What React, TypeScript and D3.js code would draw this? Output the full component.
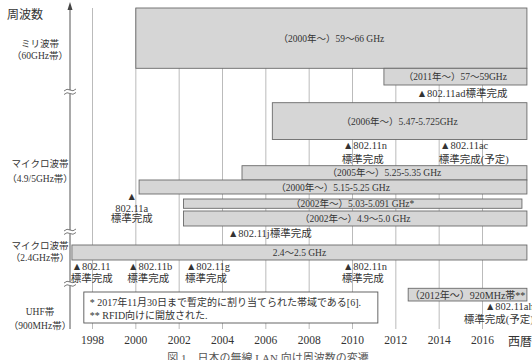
import React from "react";
import * as d3 from "d3";

const W = 532;
const H = 360;

const tickYears = [1998, 2000, 2002, 2004, 2006, 2008, 2010, 2012, 2014, 2016];

// frequency bands: start/end year, top/bottom in schematic axis units
const bandLabels = [
  "（2000年～）59～66 GHz",
  "（2011年～）57～59GHz",
  "（2006年～）5.47-5.725GHz",
  "（2005年～）5.25-5.35 GHz",
  "（2000年～）5.15-5.25 GHz",
  "（2002年～）5.03-5.091 GHz*",
  "（2002年～）4.9～5.0 GHz",
  "2.4～2.5 GHz",
  "（2012年～）920MHz帯**",
];
const bandFrom = [2000, 2011.45, 2006.3, 2004.9, 2000.15, 2002.2, 2002.2, 1997.05, 2012.57];
const bandTo = [2018.05, 2018.05, 2018.05, 2018.05, 2018.05, 2017.82, 2018.05, 2018.05, 2018.05];
const bandTop = [0, 6.03, 9.47, 15.77, 17.2, 19.1, 20.3, 23.7, 28.03];
const bandBottom = [6.03, 7.7, 13.15, 17.2, 18.6, 20.03, 21.8, 25.2, 29.3];

// standard milestones: text lines, year position, line levels
const milestones = [
  { lines: ["▲802.11ad標準完成"], at: [2012.96], lv: [8.5], anchor: "start" },
  { lines: ["▲802.11n", "標準完成"], at: [2009.56, 2009.5], lv: [13.7, 15.1], anchor: "start" },
  { lines: ["▲802.11ac", "標準完成(予定)"], at: [2014.04, 2013.98], lv: [13.7, 15.1], anchor: "start" },
  { lines: ["▲", "802.11a", "標準完成"], at: [1999.81, 1999.81, 1999.81], lv: [18.8, 20.0, 21.05], anchor: "middle" },
  { lines: ["▲802.11j標準完成"], at: [2004.25], lv: [22.5], anchor: "start" },
  { lines: ["▲802.11", "標準完成"], at: [1997.04, 1997.0], lv: [25.8, 27.0], anchor: "start" },
  { lines: ["▲802.11b", "標準完成"], at: [1999.64, 1999.6], lv: [25.8, 27.0], anchor: "start" },
  { lines: ["▲802.11g", "標準完成"], at: [2002.31, 2002.27], lv: [25.8, 27.0], anchor: "start" },
  { lines: ["▲802.11n", "標準完成"], at: [2009.56, 2009.5], lv: [25.8, 27.0], anchor: "start" },
  { lines: ["▲802.11ah", "標準完成(予定)"], at: [2016.11, 2015.14], lv: [29.8, 31.1], anchor: "start" },
];

const axisLabels = [
  { lines: ["ミリ波帯", "（60GHz帯）"], lv: [3.6, 4.8] },
  { lines: ["マイクロ波帯", "（4.9/5GHz帯）"], lv: [15.6, 17.05] },
  { lines: ["マイクロ波帯", "（2.4GHz帯）"], lv: [23.8, 25.0] },
  { lines: ["UHF帯", "（900MHz帯）"], lv: [30.4, 31.8] },
];
const breakLevels = [8.4, 22.4, 27.6];

const noteLines = [
  "* 2017年11月30日まで暫定的に割り当てられた帯域である[6].",
  "** RFID向けに開放された.",
];
const noteFrom = 1997.6;
const noteTo = 2011.17;
const noteTop = 28.4;
const noteBottom = 31.5;

const FONT = "'Liberation Serif', 'Noto Sans CJK JP', serif";
const INK = "#333";

export default function App() {
  const x = d3.scaleLinear().domain([1998, 2016]).range([92.5, 482.5]);
  const y = d3.scaleLinear().domain([0, 32.1]).range([8, 329]);
  const axisX = 70;

  return (
    <svg width={W} height={H} style={{ display: "block", position: "absolute", left: 0, top: 0, background: "#fff" }} fontFamily={FONT}>
      <rect x={0} y={0} width={W} height={H} fill="#fff" />
      {/* grid */}
      {tickYears.map((t) => (
        <line key={"g" + t} x1={x(t)} x2={x(t)} y1={y(0)} y2={y(32.1)} stroke="#aaa" strokeWidth={0.8} />
      ))}
      {/* bands */}
      {bandLabels.map((lab, i) => {
        const x0 = Math.max(x(bandFrom[i]), axisX + 1);
        const x1 = x(bandTo[i]);
        const y0 = y(bandTop[i]);
        const y1 = y(bandBottom[i]);
        return (
          <g key={"b" + i}>
            <rect x={x0} y={y0} width={x1 - x0} height={y1 - y0} fill="#d6d6d6" stroke="#6a6a6a" strokeWidth={0.9} />
            <text x={(x0 + x1) / 2} y={(y0 + y1) / 2 + 0.5} textAnchor="middle" dominantBaseline="central" fontSize={i === 8 ? 10 : 9.5} fill={INK}>
              {lab}
            </text>
          </g>
        );
      })}
      {/* note box */}
      <rect x={x(noteFrom)} y={y(noteTop)} width={x(noteTo) - x(noteFrom)} height={y(noteBottom) - y(noteTop)} fill="#fff" stroke="#555" strokeWidth={0.9} />
      {noteLines.map((l, i) => (
        <text key={"n" + i} x={x(noteFrom) + 6} y={y(noteTop) + 10 + i * 13} dominantBaseline="central" fontSize={10} fill={INK}>
          {l}
        </text>
      ))}
      {/* milestones */}
      {milestones.map((m, i) => (
        <g key={"m" + i}>
          {m.lines.map((l, j) => (
            <text key={j} x={x(m.at[j])} y={y(m.lv[j])} textAnchor={m.anchor} dominantBaseline="central" fontSize={10.5} fill={INK}>
              {l}
            </text>
          ))}
        </g>
      ))}
      {/* y axis */}
      <line x1={axisX} x2={axisX} y1={6} y2={y(32.1)} stroke="#555" strokeWidth={1} />
      <path d={`M${axisX - 2.5},${10} L${axisX},${2} L${axisX + 2.5},${10} Z`} fill="#444" />
      {breakLevels.map((b, i) => {
        const cy = y(b);
        return (
          <g key={"br" + i}>
            <rect x={axisX - 3} y={cy - 2} width={6} height={4} fill="#fff" />
            <path d={`M${axisX - 6},${cy - 1} q3,-3 6,-1 q3,2 6,-1`} fill="none" stroke="#555" strokeWidth={0.8} />
            <path d={`M${axisX - 6},${cy + 2.5} q3,-3 6,-1 q3,2 6,-1`} fill="none" stroke="#555" strokeWidth={0.8} />
          </g>
        );
      })}
      <text x={7} y={13} dominantBaseline="central" fontSize={12} fill={INK} fontFamily="'Noto Sans CJK JP', sans-serif">
        周波数
      </text>
      {axisLabels.map((a, i) => (
        <g key={"al" + i}>
          {a.lines.map((l, j) => (
            <text key={j} x={40} y={y(a.lv[j])} textAnchor="middle" dominantBaseline="central" fontSize={9.5} fill={INK}>
              {l}
            </text>
          ))}
        </g>
      ))}
      {/* x tick labels */}
      {tickYears.map((t) => (
        <text key={"t" + t} x={x(t)} y={340} textAnchor="middle" dominantBaseline="central" fontSize={11.5} fill={INK}>
          {t}
        </text>
      ))}
      <text x={508} y={340} dominantBaseline="central" fontSize={12} fill={INK} fontFamily="'Noto Sans CJK JP', sans-serif">
        西暦
      </text>
      <text x={268} y={362} textAnchor="middle" fontSize={11} fill="#555">
        図 1　日本の無線 LAN 向け周波数の変遷
      </text>
    </svg>
  );
}
